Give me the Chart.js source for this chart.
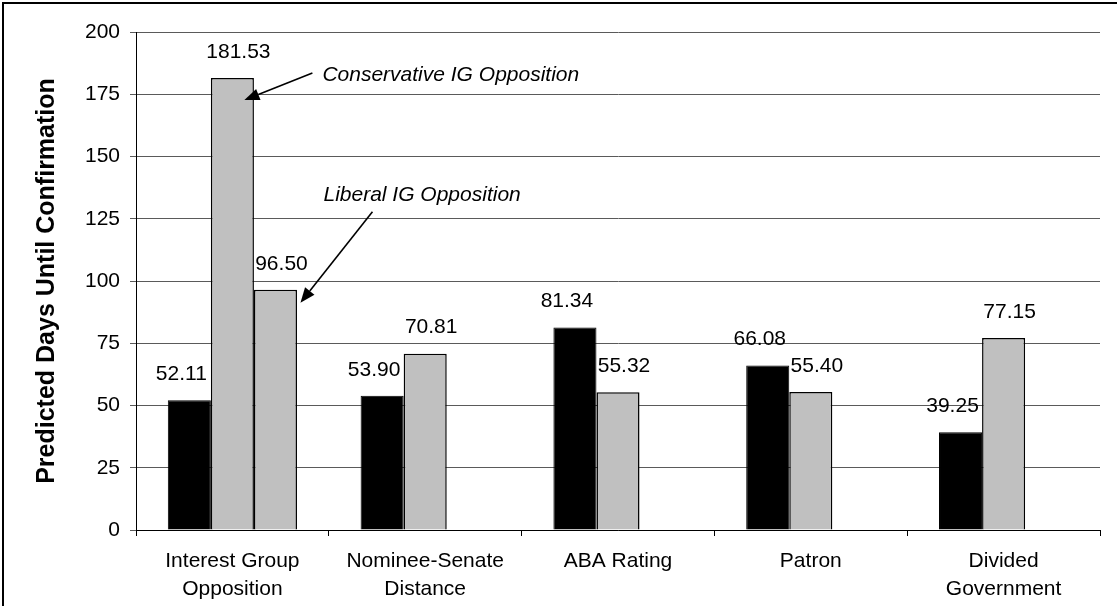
<!DOCTYPE html>
<html>
<head>
<meta charset="utf-8">
<script src="https://cdn.jsdelivr.net/npm/chart.js@4.4.1/dist/chart.umd.min.js"></script>
<style>
  html, body { margin: 0; padding: 0; background: #fff; }
  #wrap { position: relative; width: 1117px; height: 606px; }
  #frame { position: absolute; left: 2px; top: 2px; width: 1200px; height: 700px;
           border-left: 2px solid #000; border-top: 2px solid #000; pointer-events: none; }
</style>
</head>
<body>
<div id="wrap">
  <canvas id="chart" width="1117" height="606"></canvas>
  <div id="frame"></div>
</div>
<script>
// chart data
const categories = [
  ['Interest Group', 'Opposition'],
  ['Nominee-Senate', 'Distance'],
  ['ABA Rating'],
  ['Patron'],
  ['Divided', 'Government']
];
const baseValues = [52.11, 53.90, 81.34, 66.08, 39.25];
const secondValues = [181.53, 70.81, 55.32, 55.40, 77.15];
const thirdValues = [96.50, null, null, null, null];
const yTicks = [0, 25, 50, 75, 100, 125, 150, 175, 200];
const yTitle = 'Predicted Days Until Confirmation';
const conservativeNote = 'Conservative IG Opposition';
const liberalNote = 'Liberal IG Opposition';

const FONT = "'Liberation Sans', Arial, sans-serif";

// value labels above each bar
const valueLabels = {
  id: 'valueLabels',
  afterDatasetsDraw(chart) {
    const ctx = chart.ctx;
    ctx.save();
    ctx.font = '21px ' + FONT;
    ctx.fillStyle = '#000';
    ctx.textAlign = 'center';
    ctx.textBaseline = 'middle';
    chart.data.datasets.forEach((ds, di) => {
      const shift = di === 0 ? -8 : 6;
      chart.getDatasetMeta(di).data.forEach((bar, i) => {
        const v = ds.data[i];
        if (v === null || v === undefined) return;
        ctx.fillText(v.toFixed(2), bar.x + shift, bar.y - 26);
      });
    });
    ctx.restore();
  }
};

function arrow(ctx, x1, y1, x2, y2) {
  const ang = Math.atan2(y2 - y1, x2 - x1);
  const len = 15, half = 6;
  const bx = x2 - len * Math.cos(ang), by = y2 - len * Math.sin(ang);
  ctx.beginPath();
  ctx.moveTo(x1, y1);
  ctx.lineTo(bx, by);
  ctx.lineWidth = 1.6;
  ctx.strokeStyle = '#000';
  ctx.stroke();
  ctx.beginPath();
  ctx.moveTo(x2, y2);
  ctx.lineTo(bx + half * Math.sin(ang), by - half * Math.cos(ang));
  ctx.lineTo(bx - half * Math.sin(ang), by + half * Math.cos(ang));
  ctx.closePath();
  ctx.fillStyle = '#000';
  ctx.fill();
}

// arrows pointing at the interest group bars
const notes = {
  id: 'notes',
  afterDatasetsDraw(chart) {
    const ctx = chart.ctx;
    const cons = chart.getDatasetMeta(1).data[0];
    const lib = chart.getDatasetMeta(2).data[0];
    ctx.save();
    ctx.font = 'italic 21px ' + FONT;
    ctx.fillStyle = '#000';
    ctx.textAlign = 'left';
    ctx.textBaseline = 'middle';
    ctx.fillText(conservativeNote, cons.x + 90, cons.y - 3);
    arrow(ctx, cons.x + 80, cons.y - 5, cons.x + 12, cons.y + 22);
    ctx.fillText(liberalNote, lib.x + 48, lib.y - 95);
    arrow(ctx, lib.x + 97, lib.y - 78, lib.x + 25, lib.y + 13);
    ctx.restore();
  }
};

const config = {
  type: 'bar',
  data: {
    labels: categories,
    datasets: [
      { data: baseValues, backgroundColor: '#000000', borderColor: '#000000', borderWidth: 1 },
      { data: secondValues, backgroundColor: '#c0c0c0', borderColor: '#000000', borderWidth: 1.5 },
      { data: thirdValues, backgroundColor: '#c0c0c0', borderColor: '#000000', borderWidth: 1.5 }
    ]
  },
  options: {
    responsive: false,
    animation: false,
    events: [],
    layout: { padding: { left: 22, right: 17, top: 32, bottom: 0 } },
    datasets: { bar: { categoryPercentage: 0.67, barPercentage: 1, borderSkipped: 'start' } },
    plugins: {
      legend: { display: false },
      tooltip: { enabled: false }
    },
    scales: {
      x: {
        offset: true,
        grid: { offset: true, drawOnChartArea: false, drawTicks: true, tickLength: 6, color: '#000', lineWidth: 1 },
        border: { color: '#000', width: 1 },
        ticks: { color: '#000', padding: 11, maxRotation: 0, autoSkip: false,
                 font: { family: FONT, size: 21, lineHeight: 1.35 } },
        afterFit(s) { s.height = 76; }
      },
      y: {
        min: 0,
        max: 200,
        afterBuildTicks(s) { s.ticks = yTicks.map(v => ({ value: v })); },
        grid: { color: '#5a5a5a', lineWidth: 1, tickLength: 6, tickColor: '#5a5a5a' },
        border: { color: '#000', width: 1 },
        ticks: { color: '#000', padding: 10, font: { family: FONT, size: 21 } },
        title: { display: true, text: yTitle, color: '#000', padding: { top: 10, bottom: 0 },
                 font: { family: FONT, size: 25, weight: 'bold' } },
        afterFit(s) { s.width = 114; }
      }
    }
  },
  plugins: [valueLabels, notes]
};

new Chart(document.getElementById('chart').getContext('2d'), config);
</script>
</body>
</html>
